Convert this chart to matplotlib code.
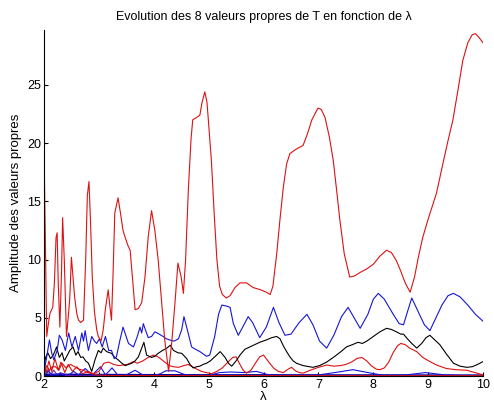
import matplotlib
matplotlib.use("Agg")
import matplotlib.pyplot as plt

plt.rcParams['font.family'] = ['Liberation Sans', 'DejaVu Sans']

# -------------------------
# Data
# -------------------------

# grande valeur propre (rouge)
x_r1 = [2.00, 2.02, 2.05, 2.08, 2.11, 2.16, 2.19, 2.22, 2.24, 2.26, 2.29, 2.32, 2.34, 2.37,
        2.41, 2.45, 2.47, 2.50, 2.53, 2.56, 2.60, 2.63, 2.67, 2.72, 2.76, 2.79, 2.82, 2.85,
        2.88, 2.92, 2.96, 2.99, 3.04, 3.08, 3.12, 3.17, 3.20, 3.23, 3.26, 3.29, 3.35, 3.40,
        3.44, 3.48, 3.53, 3.57, 3.62, 3.66, 3.72, 3.78, 3.84, 3.90, 3.96, 4.02, 4.08, 4.14,
        4.20, 4.27, 4.33, 4.39, 4.44, 4.50, 4.54, 4.58, 4.63, 4.68, 4.71, 4.78, 4.84, 4.88,
        4.93, 4.97, 5.01, 5.05, 5.10, 5.15, 5.20, 5.25, 5.32, 5.39, 5.48, 5.57, 5.69, 5.81,
        5.95, 6.05, 6.12, 6.17, 6.24, 6.30, 6.36, 6.42, 6.48, 6.60, 6.72, 6.80, 6.88, 6.99,
        7.05, 7.12, 7.20, 7.27, 7.33, 7.39, 7.47, 7.57, 7.66, 7.76, 7.88, 8.00, 8.12, 8.24,
        8.33, 8.42, 8.50, 8.58, 8.67, 8.75, 8.82, 8.90, 9.00, 9.15, 9.27, 9.36, 9.45, 9.55,
        9.63, 9.72, 9.80, 9.86, 9.92, 10.0]
y_r1 = [19.6, 13.4, 3.4, 4.5, 5.4, 5.9, 8.0, 11.9, 12.3, 8.0, 4.2, 9.0, 13.6, 10.0,
        3.4, 5.5, 6.7, 10.2, 8.5, 6.7, 5.3, 4.8, 4.6, 4.8, 10.0, 15.5, 16.7, 13.0,
        8.5, 5.5, 4.0, 3.4, 3.0, 4.0, 5.8, 7.4, 6.0, 4.8, 9.0, 14.0, 15.3, 13.8,
        12.5, 11.9, 11.2, 10.8, 8.0, 5.7, 5.8, 6.3, 8.5, 12.0, 14.2, 12.5, 10.0, 6.5,
        3.1, 0.4, 3.0, 6.5, 9.7, 8.5, 7.1, 10.0, 16.0, 20.4, 22.0, 22.2, 22.4, 23.5,
        24.4, 23.5, 21.0, 18.5, 14.0, 10.0, 7.7, 7.0, 6.7, 6.9, 7.6, 8.0, 8.0, 7.6,
        7.4, 7.2, 7.0, 7.7, 10.5, 13.5, 16.2, 18.2, 19.1, 19.5, 19.8, 20.8, 22.0, 23.0,
        22.9, 22.2, 20.5, 18.5, 16.0, 13.4, 10.5, 8.5, 8.6, 8.9, 9.2, 9.6, 10.3, 10.8,
        10.6, 9.9, 9.0, 8.0, 7.2, 8.5, 10.2, 11.9, 13.5, 15.7, 18.3, 20.2, 22.0, 24.8,
        27.1, 28.6, 29.3, 29.4, 29.1, 28.6]

# bleu (haut)
x_b1 = [2.00, 2.05, 2.10, 2.14, 2.18, 2.24, 2.28, 2.33, 2.39, 2.45, 2.51, 2.57, 2.63, 2.69,
        2.72, 2.75, 2.78, 2.81, 2.87, 2.92, 2.96, 3.01, 3.06, 3.12, 3.18, 3.23, 3.28, 3.32,
        3.38, 3.44, 3.49, 3.54, 3.63, 3.70, 3.75, 3.78, 3.81, 3.86, 3.90, 3.96, 4.02, 4.10,
        4.17, 4.23, 4.29, 4.37, 4.45, 4.51, 4.55, 4.61, 4.69, 4.76, 4.84, 4.96, 5.02, 5.11,
        5.18, 5.24, 5.33, 5.39, 5.45, 5.54, 5.62, 5.72, 5.80, 5.93, 6.05, 6.18, 6.28, 6.39,
        6.50, 6.65, 6.79, 6.90, 7.02, 7.15, 7.28, 7.42, 7.54, 7.65, 7.76, 7.90, 8.00, 8.09,
        8.20, 8.35, 8.47, 8.55, 8.62, 8.70, 8.80, 8.93, 9.03, 9.12, 9.25, 9.36, 9.46, 9.58,
        9.72, 9.86, 10.0]
y_b1 = [0.3, 1.65, 3.1, 2.0, 1.4, 2.2, 3.5, 3.1, 2.2, 3.7, 2.5, 3.4, 2.2, 3.7,
        3.0, 3.9, 3.0, 2.2, 3.4, 3.0, 2.8, 3.2, 2.5, 3.4, 2.2, 2.2, 1.5, 1.65,
        3.0, 4.2, 3.5, 2.8, 2.5, 3.4, 4.2, 3.7, 4.5, 3.8, 3.3, 3.4, 3.8, 3.6,
        3.4, 3.2, 3.1, 3.0, 3.2, 4.0, 5.1, 4.0, 2.5, 2.3, 2.1, 1.7, 1.8, 3.4,
        5.3, 6.1, 6.0, 5.9, 4.5, 3.5, 4.2, 5.1, 4.6, 3.3, 4.2, 5.9, 4.6, 3.5,
        3.6, 4.6, 5.3, 4.4, 3.0, 2.4, 3.5, 5.1, 5.9, 5.0, 4.1, 5.3, 6.6, 7.1,
        6.6, 5.4, 4.5, 4.4, 5.5, 6.7, 5.7, 4.4, 3.9, 4.8, 6.1, 6.9, 7.1, 6.8,
        6.1, 5.3, 4.7]

# noir
x_k = [2.00, 2.03, 2.07, 2.12, 2.17, 2.23, 2.28, 2.33, 2.37, 2.41, 2.47, 2.53, 2.58, 2.62,
       2.67, 2.71, 2.76, 2.81, 2.87, 2.93, 2.99, 3.04, 3.08, 3.14, 3.23, 3.29, 3.35, 3.42,
       3.48, 3.54, 3.60, 3.66, 3.72, 3.78, 3.82, 3.87, 3.96, 4.02, 4.08, 4.16, 4.24, 4.30,
       4.36, 4.44, 4.51, 4.60, 4.66, 4.72, 4.78, 4.84, 4.90, 4.96, 5.03, 5.11, 5.21, 5.30,
       5.36, 5.42, 5.50, 5.57, 5.66, 5.75, 5.84, 5.93, 6.05, 6.15, 6.24, 6.30, 6.36, 6.42,
       6.48, 6.54, 6.60, 6.72, 6.90, 7.02, 7.15, 7.30, 7.41, 7.51, 7.62, 7.72, 7.80, 7.88,
       8.00, 8.12, 8.24, 8.33, 8.42, 8.50, 8.55, 8.62, 8.70, 8.79, 8.88, 8.96, 9.03, 9.12,
       9.21, 9.33, 9.46, 9.58, 9.70, 9.80, 9.90, 10.0]
y_k = [0.8, 1.6, 2.0, 1.5, 1.8, 2.5, 1.6, 2.0, 1.3, 1.65, 2.2, 2.5, 1.8, 2.1,
       1.6, 1.65, 1.3, 1.1, 0.4, 1.4, 2.2, 2.0, 2.4, 2.1, 1.95, 1.6, 1.4, 1.1,
       0.9, 1.0, 1.1, 1.3, 1.65, 2.4, 2.9, 1.8, 1.6, 1.7, 1.95, 2.2, 2.4, 2.65,
       2.2, 2.0, 1.95, 1.5, 1.0, 0.7, 0.8, 0.85, 1.0, 1.1, 1.3, 1.65, 2.1, 1.6,
       1.1, 0.85, 1.3, 1.8, 2.3, 2.5, 2.7, 2.9, 3.1, 3.3, 3.4, 3.2, 2.6, 2.1,
       1.65, 1.3, 1.1, 0.9, 0.75, 0.9, 1.2, 1.7, 2.1, 2.5, 2.7, 2.9, 2.8, 3.0,
       3.4, 3.8, 4.1, 4.0, 3.8, 3.6, 3.6, 3.2, 2.8, 2.4, 2.8, 3.3, 3.5, 3.1,
       2.7, 1.9, 1.1, 0.85, 0.75, 0.8, 1.0, 1.25]

# rouge (moyen)
x_r2 = [2.00, 2.05, 2.10, 2.15, 2.21, 2.27, 2.33, 2.40, 2.48, 2.56, 2.63, 2.72, 2.80, 2.90,
        3.00, 3.09, 3.18, 3.27, 3.36, 3.44, 3.52, 3.63, 3.70, 3.80, 3.90, 3.99, 4.06, 4.12,
        4.20, 4.28, 4.36, 4.45, 4.55, 4.63, 4.70, 4.78, 4.87, 4.96, 5.05, 5.15, 5.25, 5.35,
        5.44, 5.50, 5.57, 5.63, 5.69, 5.77, 5.85, 5.93, 6.00, 6.08, 6.18, 6.27, 6.36, 6.45,
        6.51, 6.58, 6.65, 6.72, 6.85, 7.00, 7.15, 7.28, 7.40, 7.50, 7.60, 7.70, 7.79, 7.88,
        7.96, 8.05, 8.12, 8.20, 8.28, 8.36, 8.44, 8.50, 8.58, 8.66, 8.79, 8.90, 9.03, 9.15,
        9.33, 9.50, 9.70, 9.85, 10.0]
y_r2 = [0.3, 0.9, 0.5, 0.8, 0.8, 0.5, 1.1, 0.7, 1.0, 0.8, 0.6, 0.5, 0.3, 0.2,
        0.4, 1.1, 1.2, 1.0, 0.9, 0.95, 1.0, 1.25, 1.1, 1.3, 1.6, 1.8, 1.7, 1.5,
        1.2, 0.9, 0.8, 0.75, 0.9, 1.0, 0.8, 0.6, 0.4, 0.3, 0.2, 0.4, 0.7, 1.2,
        1.6, 1.65, 1.0, 0.5, 0.25, 0.5, 1.1, 1.65, 1.8, 1.3, 0.7, 0.4, 0.3, 0.6,
        0.75, 0.45, 0.3, 0.25, 0.5, 0.75, 0.95, 0.85, 0.9, 1.0, 1.2, 1.5, 1.6, 1.3,
        0.9, 0.6, 0.55, 0.7, 1.2, 2.0, 2.6, 2.8, 2.7, 2.4, 2.1, 1.6, 1.25, 0.95,
        0.65, 0.55, 0.5, 0.3, 0.1]

# rouge (bas)
x_r3 = [2.00, 2.04, 2.09, 2.14, 2.20, 2.26, 2.31, 2.38, 2.44, 2.52, 2.60, 2.70, 2.80, 2.95,
        3.20, 3.60, 4.50, 6.00, 8.00, 10.0]
y_r3 = [1.0, 0.3, 1.3, 0.4, 1.5, 0.5, 1.2, 0.3, 1.0, 0.4, 0.8, 0.2, 0.4, 0.1,
        0.05, 0.05, 0.04, 0.04, 0.03, 0.03]

# bleu (bas)
x_b2 = [2.00, 2.08, 2.15, 2.30, 2.45, 2.54, 2.63, 2.75, 2.88, 3.03, 3.12, 3.24, 3.35, 3.50,
        3.66, 3.80, 4.00, 4.12, 4.22, 4.39, 4.55, 4.70, 5.00, 5.20, 5.40, 5.65, 5.87, 6.10,
        6.50, 7.00, 7.30, 7.63, 7.90, 8.20, 8.60, 8.95, 9.30, 9.60, 10.0]
y_b2 = [0.0, 0.4, 0.1, 0.2, 0.1, 0.4, 0.1, 0.65, 0.1, 0.8, 0.1, 0.7, 0.05, 0.1,
        0.5, 0.1, 0.05, 0.2, 0.45, 0.45, 0.15, 0.05, 0.05, 0.3, 0.35, 0.3, 0.4, 0.1,
        0.05, 0.1, 0.3, 0.55, 0.3, 0.05, 0.1, 0.3, 0.1, 0.05, 0.0]

# violet (bas, debut)
x_m = [2.00, 2.04, 2.08, 2.12, 2.18, 2.24, 2.30, 2.40, 2.60, 4.00, 6.00, 8.00, 10.0]
y_m = [0.9, 0.2, 0.6, 0.1, 0.5, 0.1, 0.3, 0.05, 0.02, 0.02, 0.02, 0.02, 0.02]

# bleu fonce (quasi nul)
x_n = [2.0, 3.0, 4.0, 5.0, 6.0, 7.0, 8.0, 9.0, 10.0]
y_n = [0.1, 0.08, 0.06, 0.05, 0.05, 0.04, 0.04, 0.03, 0.03]

# -------------------------
# Plot
# -------------------------

fig = plt.figure(figsize=(4.94, 4.07), dpi=100)
ax = fig.add_axes([0.089, 0.076, 0.889, 0.850])

lw = 0.8
ax.plot(x_n, y_n, color="#000099", lw=2.0)
ax.plot(x_m, y_m, color="#7a1fa0", lw=lw)
ax.plot(x_b2, y_b2, color="#1515d8", lw=lw)
ax.plot(x_r3, y_r3, color="#dd1111", lw=lw)
ax.plot(x_r2, y_r2, color="#dd1111", lw=lw)
ax.plot(x_k, y_k, color="black", lw=lw)
ax.plot(x_b1, y_b1, color="#1515d8", lw=lw)
ax.plot(x_r1, y_r1, color="#dd1111", lw=lw)

ax.set_xlim(2, 10)
ax.set_ylim(0, 29.7)
ax.set_xticks(range(2, 11))
ax.set_yticks([0, 5, 10, 15, 20, 25])

ax.spines["top"].set_visible(False)
ax.spines["right"].set_visible(False)
ax.tick_params(direction="in", length=3, labelsize=9, pad=2)

ax.set_title("Evolution des 8 valeurs propres de T en fonction de λ", fontsize=9, pad=7)
ax.set_xlabel("λ", fontsize=9.5, labelpad=0)
ax.set_ylabel("Amplitude des valeurs propres", fontsize=9.5, labelpad=4)

fig.savefig("out.png", dpi=100)
plt.close(fig)
